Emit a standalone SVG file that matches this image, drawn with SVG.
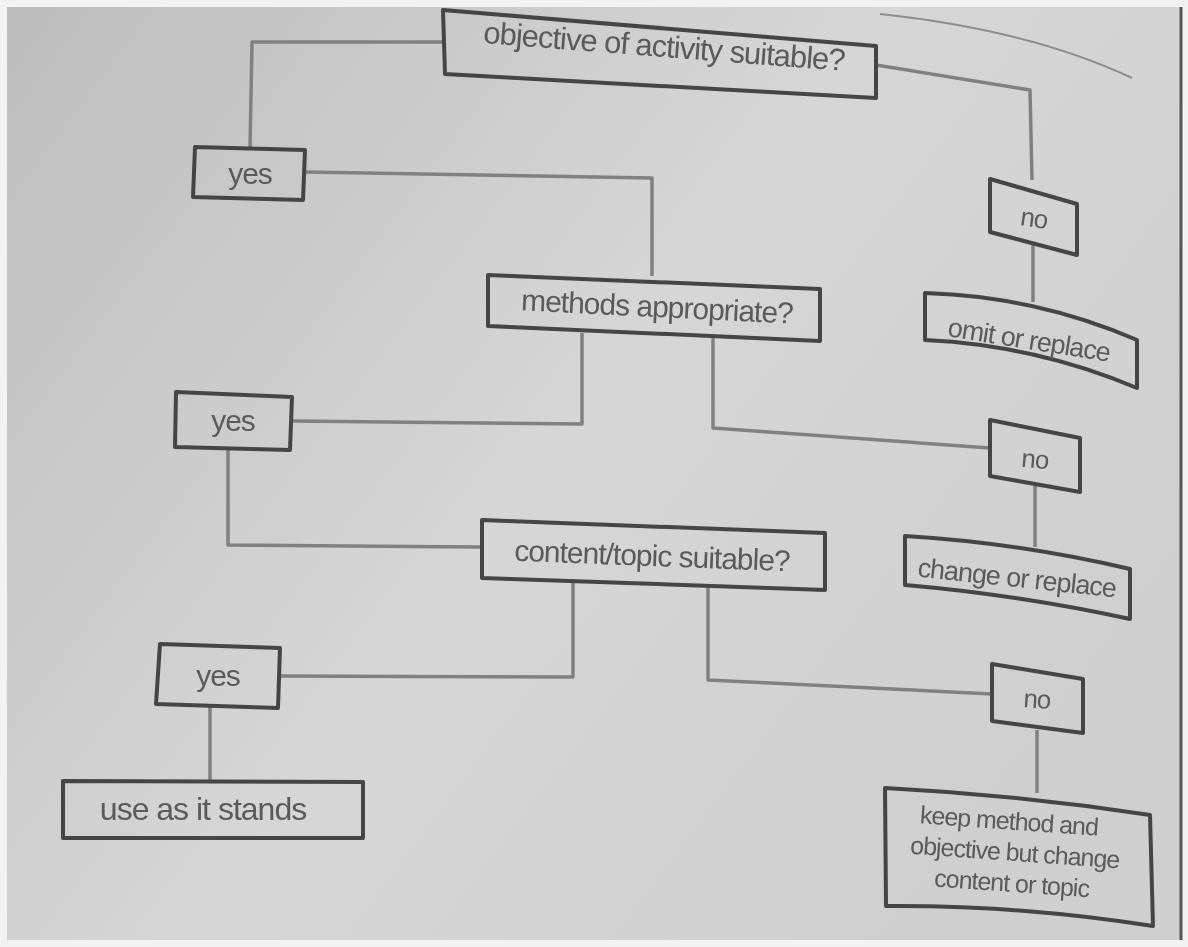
<svg xmlns="http://www.w3.org/2000/svg" width="1188" height="947" viewBox="0 0 1188 947">
<defs>
<linearGradient id="page" x1="0" y1="0" x2="1" y2="0.6">
<stop offset="0" stop-color="#bdbdbd"/>
<stop offset="0.55" stop-color="#d6d6d6"/>
<stop offset="1" stop-color="#cfcfcf"/>
</linearGradient>
<filter id="soft" x="-5%" y="-5%" width="110%" height="110%"><feGaussianBlur stdDeviation="0.7"/></filter>
</defs>
<style>
.box{fill:none;stroke:#454545;stroke-width:4;stroke-linejoin:round}
.lbl{font-family:"Liberation Sans",Arial,sans-serif;fill:#5a5a5a;text-anchor:middle;letter-spacing:-1px}
.f30{font-size:30px}
.f27{font-size:27px}
.f26{font-size:26px}
.f25{font-size:25px}
.con{fill:none;stroke:#808080;stroke-width:3.5;stroke-linejoin:round}
</style>
<rect x="0" y="0" width="1188" height="947" fill="#f2f2f2"/>
<rect x="7" y="7" width="1174" height="933" fill="url(#page)"/>
<line x1="1181" y1="7" x2="1181" y2="940" stroke="#555" stroke-width="3"/>
<path d="M880 14 Q1030 30 1132 78" fill="none" stroke="#8c8c8c" stroke-width="2"/>
<g filter="url(#soft)">
<g id="connectors">
<path class="con" d="M443 42 L252 42 L250 148"/>
<path class="con" d="M305 172 L652 178 L652 276"/>
<path class="con" d="M876 65 L1030 90 L1032 180"/>
<path class="con" d="M1033 245 L1033 302"/>
<path class="con" d="M582 333 L582 424 L292 421"/>
<path class="con" d="M713 338 L713 428 L990 448"/>
<path class="con" d="M1035 486 L1035 547"/>
<path class="con" d="M228 450 L228 545 L482 547"/>
<path class="con" d="M573 583 L573 677 L279 676"/>
<path class="con" d="M708 587 L708 680 L992 694"/>
<path class="con" d="M1037 730 L1037 793"/>
<path class="con" d="M210 707 L210 781"/>
</g>
<g id="n-objective">
<path class="box" d="M443 10 L876 46 L876 98 L445 74 Z"/>
<text class="lbl" x="664" y="57" transform="rotate(4.4 664 47)" style="font-size:31px">objective of activity suitable?</text>
</g>
<g id="n-yes1">
<path class="box" d="M195 147 L305 150 L303 200 L193 197 Z"/>
<text class="lbl f30" x="250" y="184">yes</text>
</g>
<g id="n-methods">
<path class="box" d="M488 275 L820 289 L820 341 L488 326 Z"/>
<text class="lbl f30" x="657" y="317" transform="rotate(2.8 657 307)">methods appropriate?</text>
</g>
<g id="n-no1">
<path class="box" d="M990 179 L1077 204 L1077 255 L990 232 Z"/>
<text class="lbl f26" x="1034" y="227" transform="rotate(8 1034 218)">no</text>
</g>
<g id="n-omit">
<path class="box" d="M925 293 Q1035 296 1137 340 L1137 388 Q1035 345 925 340 Z"/>
<text class="lbl f27" x="1029" y="349" transform="rotate(9 1029 340)">omit or replace</text>
</g>
<g id="n-yes2">
<path class="box" d="M176 392 L292 397 L290 450 L175 447 Z"/>
<text class="lbl f30" x="233" y="431">yes</text>
</g>
<g id="n-no2">
<path class="box" d="M990 420 L1080 438 L1080 492 L990 476 Z"/>
<text class="lbl f26" x="1035" y="468" transform="rotate(5 1035 459)">no</text>
</g>
<g id="n-change">
<path class="box" d="M905 536 Q1020 543 1130 569 L1130 619 Q1020 595 905 585 Z"/>
<text class="lbl f27" x="1017" y="587" transform="rotate(6 1017 577)">change or replace</text>
</g>
<g id="n-content">
<path class="box" d="M482 520 L825 533 L825 590 L482 578 Z"/>
<text class="lbl f30" x="652" y="566" transform="rotate(2.2 652 556)">content/topic suitable?</text>
</g>
<g id="n-yes3">
<path class="box" d="M160 644 L280 648 L278 708 L156 704 Z"/>
<text class="lbl f30" x="218" y="686">yes</text>
</g>
<g id="n-no3">
<path class="box" d="M992 664 L1083 679 L1083 733 L992 721 Z"/>
<text class="lbl f26" x="1037" y="708" transform="rotate(4 1037 699)">no</text>
</g>
<g id="n-keep">
<path class="box" d="M885 788 Q1020 795 1150 815 L1153 926 Q1020 905 886 906 Z"/>
<text class="lbl f25" transform="rotate(4 1015 850)">
<tspan x="1010" y="830">keep method and</tspan>
<tspan x="1018" y="861">objective but change</tspan>
<tspan x="1014" y="892">content or topic</tspan>
</text>
</g>
<g id="n-use">
<path class="box" d="M63 781 L363 782 L363 838 L63 838 Z"/>
<text class="lbl" x="203" y="820" style="font-size:32px">use as it stands</text>
</g>
</g>
</svg>
